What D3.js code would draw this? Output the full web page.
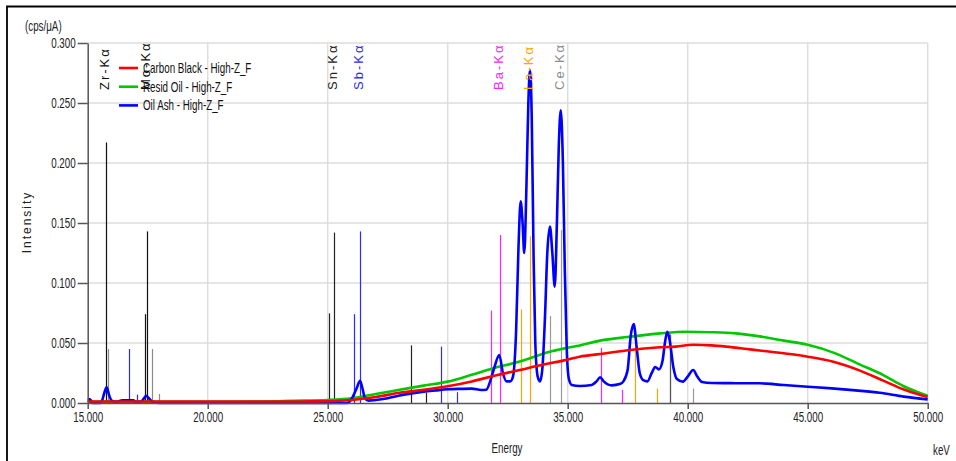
<!DOCTYPE html>
<html>
<head>
<meta charset="utf-8">
<script src="https://cdn.jsdelivr.net/npm/d3@7"></script>
<style>
  body { margin: 0; background: #fff; }
  svg text { font-family: "Liberation Sans", Arial, sans-serif; }
</style>
</head>
<body>
<div id="chart"></div>
<script>
// tick labels
const xTicks = [15, 20, 25, 30, 35, 40, 45, 50];
const xTickLabels = ["15.000", "20.000", "25.000", "30.000", "35.000", "40.000", "45.000", "50.000"];
const yTicks = [0, 0.05, 0.1, 0.15, 0.2, 0.25, 0.3];
const yTickLabels = ["0.000", "0.050", "0.100", "0.150", "0.200", "0.250", "0.300"];

const seriesNames = ["Carbon Black - High-Z_F", "Resid Oil - High-Z_F", "Oil Ash - High-Z_F"];

// [keV, cps/uA]
const carbonBlack = [
  [15, 0.0012], [18, 0.0012], [21, 0.0012], [23, 0.0012], [24, 0.0013], [25, 0.0015],
  [26, 0.0025], [27, 0.005], [28, 0.0085], [29, 0.011], [30, 0.014], [31, 0.018],
  [31.9, 0.0225], [33, 0.0275], [34, 0.032], [34.8, 0.0353], [35.5, 0.0386], [36.35, 0.0408],
  [37.5, 0.044], [38.85, 0.0464], [39.5, 0.047], [40.23, 0.0485], [41, 0.048], [41.6, 0.047],
  [42.6, 0.0447], [44, 0.0414], [45, 0.0386], [46.07, 0.0344], [47.18, 0.027], [48.15, 0.0186],
  [48.98, 0.0114], [49.6, 0.0072], [50, 0.005]
];

const residOil = [
  [15, 0.001], [18, 0.001], [21, 0.0011], [22.5, 0.0013], [23.5, 0.0018], [25, 0.0025],
  [26, 0.0039], [27, 0.0075], [28, 0.011], [29, 0.0145], [30, 0.0178], [31, 0.0235],
  [31.9, 0.029], [33, 0.0345], [34.26, 0.0428], [35, 0.046], [35.5, 0.048], [36.35, 0.052],
  [37.5, 0.055], [38.85, 0.058], [39.9, 0.0594], [41, 0.059], [42, 0.058], [43, 0.0555],
  [44, 0.052], [45, 0.0485], [46.07, 0.042], [47.18, 0.032], [48.15, 0.0233], [48.98, 0.0142],
  [49.6, 0.009], [50, 0.006]
];

const oilAsh = [
  [15, 0.003], [15.1, 0.003], [15.2, 0], [15.5, 0], [15.6, 0.002], [15.7, 0.009],
  [15.79, 0.013], [15.9, 0.006], [16, 0.002], [16.2, 0.001], [16.45, 0.0022], [16.9, 0.0022],
  [17, 0.001], [17.2, 0.001], [17.35, 0.004], [17.43, 0.006], [17.55, 0.004], [17.7, 0.001],
  [18, 0], [25.8, 0], [25.9, 0.001], [26, 0.0036], [26.2, 0.012], [26.35, 0.0186],
  [26.45, 0.012], [26.55, 0.004], [26.7, 0.002], [27, 0.0025], [27.5, 0.004], [28, 0.0062],
  [28.5, 0.008], [29, 0.0095], [29.5, 0.0105], [30, 0.0114], [30.5, 0.0118], [31, 0.012],
  [31.4, 0.0108], [31.6, 0.011], [31.83, 0.022], [31.95, 0.03], [32.15, 0.04], [32.3, 0.025],
  [32.45, 0.018], [32.6, 0.018], [32.72, 0.022], [32.85, 0.06], [32.95, 0.13], [33.04, 0.168],
  [33.12, 0.15], [33.19, 0.125], [33.28, 0.18], [33.36, 0.25], [33.43, 0.2775], [33.5, 0.24],
  [33.58, 0.12], [33.65, 0.05], [33.75, 0.022], [33.85, 0.018], [33.95, 0.03], [34.05, 0.07],
  [34.15, 0.125], [34.26, 0.147], [34.36, 0.125], [34.46, 0.097], [34.55, 0.15], [34.63, 0.215],
  [34.71, 0.244], [34.8, 0.2], [34.88, 0.11], [34.96, 0.045], [35.05, 0.02], [35.17, 0.015],
  [35.5, 0.0142], [36, 0.015], [36.2, 0.018], [36.35, 0.0214], [36.5, 0.018], [36.83, 0.0147],
  [37.2, 0.016], [37.32, 0.018], [37.5, 0.028], [37.62, 0.055], [37.75, 0.0658], [37.88, 0.045],
  [38, 0.025], [38.15, 0.019], [38.32, 0.018], [38.5, 0.025], [38.65, 0.03], [38.8, 0.028],
  [38.95, 0.035], [39.05, 0.05], [39.15, 0.0594], [39.25, 0.052], [39.4, 0.03], [39.55, 0.02],
  [39.8, 0.0178], [40, 0.022], [40.23, 0.0275], [40.4, 0.022], [40.6, 0.0175], [41, 0.0167],
  [42, 0.0165], [43, 0.0164], [44, 0.015], [45, 0.0136], [46, 0.0122], [47, 0.0105],
  [48, 0.0085], [49, 0.0053], [50, 0.003]
];

// element marker lines [keV, height]
const zrLines = [[15.775, 0.217]];
const grayMinorLines = [[15.86, 0.045], [17.668, 0.045], [17.97, 0.0075]];
const moLines = [[17.374, 0.074], [17.479, 0.143]];
const snLines = [[25.044, 0.0747], [25.271, 0.142], [28.486, 0.048], [29.1, 0.0085]];
const sbLines = [[16.73, 0.045], [17.04, 0.007], [26.111, 0.074], [26.359, 0.143], [29.726, 0.047], [30.4, 0.009]];
const baLines = [[31.817, 0.077], [32.194, 0.14], [36.378, 0.046], [37.26, 0.011]];
const laLines = [[33.034, 0.078], [33.442, 0.139], [37.801, 0.047], [38.73, 0.012]];
const ceLines = [[34.279, 0.0725], [34.72, 0.144], [39.257, 0.057], [40.23, 0.012]];

const elementNames = ["Zr-Kα", "Mo-Kα", "Sn-Kα", "Sb-Kα", "Ba-Kα", "La-Kα", "Ce-Kα"];
const elementKeV = [15.775, 17.479, 25.271, 26.359, 32.194, 33.442, 34.72];

(function() {
  const width = 956, height = 461;
  const narrow = 0.7; // the original font is a tall narrow one
  const fontSize = "14px";
  const svg = d3.select("#chart").append("svg")
    .attr("width", width)
    .attr("height", height);

  const x = d3.scaleLinear().domain([15, 50]).range([87.7, 927.7]);
  const y = d3.scaleLinear().domain([0, 0.3]).range([403, 43]);

  function narrowText(g, tx, ty, str) {
    return g.append("text")
      .attr("transform", `translate(${tx},${ty}) scale(${narrow},1)`)
      .attr("font-size", fontSize)
      .attr("fill", "#222")
      .text(str);
  }

  // window frame (top + left edges)
  svg.append("path")
    .attr("d", `M7,461 V6.5 H956`)
    .attr("fill", "none")
    .attr("stroke", "#000")
    .attr("stroke-width", 1.8);

  // grid
  const grid = svg.append("g");
  grid.selectAll("line.h")
    .data(yTicks.slice(1))
    .enter().append("line")
    .attr("x1", x(15)).attr("x2", x(50))
    .attr("y1", d => y(d)).attr("y2", d => y(d))
    .attr("stroke", "#dddddd").attr("stroke-width", 1.5);
  grid.selectAll("line.v")
    .data(xTicks.slice(1))
    .enter().append("line")
    .attr("x1", d => x(d)).attr("x2", d => x(d))
    .attr("y1", y(0.3)).attr("y2", y(0))
    .attr("stroke", "#dddddd").attr("stroke-width", 1.5);

  // element marker lines
  const markerGroups = [
    [grayMinorLines, "#8a8a8a"],
    [zrLines, "#111"],
    [moLines, "#111"],
    [snLines, "#222"],
    [sbLines, "#2a2aff"],
    [baLines, "#ff22ff"],
    [laLines, "#ffa500"],
    [ceLines, "#999999"]
  ];
  const markers = svg.append("g");
  markerGroups.forEach(([lines, color]) => {
    markers.selectAll(null)
      .data(lines)
      .enter().append("line")
      .attr("x1", d => Math.round(x(d[0])) + 0.5)
      .attr("x2", d => Math.round(x(d[0])) + 0.5)
      .attr("y1", y(0))
      .attr("y2", d => y(d[1]))
      .attr("stroke", color)
      .attr("stroke-width", 1.2);
  });
  // Ce K-beta drawn a bit darker
  markers.append("line")
    .attr("x1", Math.round(x(ceLines[2][0])) + 0.5)
    .attr("x2", Math.round(x(ceLines[2][0])) + 0.5)
    .attr("y1", y(0)).attr("y2", y(ceLines[2][1]))
    .attr("stroke", "#555").attr("stroke-width", 1.2);

  // spectra
  const line = d3.line()
    .x(d => x(d[0]))
    .y(d => y(d[1]))
    .curve(d3.curveMonotoneX);

  const colors = ["#ff0000", "#00c800", "#0000ff"];
  const seriesData = [carbonBlack, residOil, oilAsh];
  [1, 2, 0].forEach(i => {
    svg.append("path")
      .attr("d", line(seriesData[i]))
      .attr("fill", "none")
      .attr("stroke", colors[i])
      .attr("stroke-width", 2.6)
      .attr("stroke-linejoin", "round");
  });

  // axes
  const yAxis = svg.append("g")
    .attr("transform", `translate(${x(15)},0)`)
    .call(d3.axisLeft(y)
      .tickValues(yTicks)
      .tickFormat((d, i) => yTickLabels[i])
      .tickSize(10)
      .tickPadding(2)
      .tickSizeOuter(0));
  yAxis.select(".domain").attr("stroke", "#555").attr("stroke-width", 1.5);
  yAxis.selectAll(".tick line").attr("stroke", "#555").attr("stroke-width", 1.5);
  yAxis.selectAll(".tick text")
    .attr("x", 0)
    .attr("transform", `translate(-12,0) scale(${narrow},1)`)
    .attr("font-size", fontSize).attr("fill", "#222");

  const xAxis = svg.append("g")
    .attr("transform", `translate(0,${y(0)})`)
    .call(d3.axisBottom(x)
      .tickValues(xTicks)
      .tickFormat((d, i) => xTickLabels[i])
      .tickSize(6)
      .tickPadding(3)
      .tickSizeOuter(0));
  xAxis.select(".domain").attr("stroke", "#555").attr("stroke-width", 1.5);
  xAxis.selectAll(".tick line").attr("stroke", "#555").attr("stroke-width", 1.5);
  xAxis.selectAll(".tick text")
    .attr("transform", `scale(${narrow},1)`)
    .attr("font-size", fontSize).attr("fill", "#222");

  // element labels (vertical)
  const labelColors = ["#111", "#111", "#222", "#2a2aff", "#ff22ff", "#ffa500", "#8c8c8c"];
  svg.selectAll("text.elem")
    .data(elementNames)
    .enter().append("text")
    .attr("class", "elem")
    .attr("transform", (d, i) => `translate(${x(elementKeV[i]) - 1.5},90) rotate(-90)`)
    .attr("dy", "0.35em")
    .attr("font-size", "13px")
    .attr("letter-spacing", "2px")
    .attr("fill", (d, i) => labelColors[i])
    .text(d => d);

  // legend
  const legend = svg.append("g").attr("transform", "translate(119,68)");
  seriesNames.forEach((name, i) => {
    const g = legend.append("g").attr("transform", `translate(0,${i * 18.7})`);
    g.append("line")
      .attr("x1", 0).attr("x2", 19)
      .attr("stroke", colors[i]).attr("stroke-width", 2.6);
    narrowText(g, 24, 0, name)
      .attr("dy", "0.35em")
      .attr("fill", "#111");
  });

  // titles
  narrowText(svg, 25, 31, "(cps/μA)");
  svg.append("text")
    .attr("transform", "translate(27,222) rotate(-90)")
    .attr("text-anchor", "middle")
    .attr("dy", "0.35em")
    .attr("font-size", "12px")
    .attr("letter-spacing", "2px")
    .attr("fill", "#222")
    .text("Intensity");
  narrowText(svg, 507, 453, "Energy").attr("text-anchor", "middle");
  narrowText(svg, 933, 455, "keV");
})();
</script>
</body>
</html>
